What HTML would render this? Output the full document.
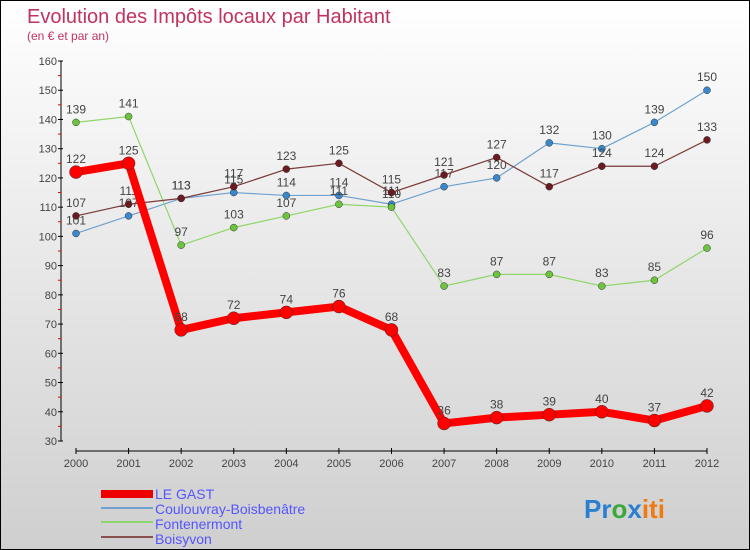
<!DOCTYPE html>
<html><head><meta charset="utf-8"><style>
body{margin:0;}
#wrap{width:748px;height:548px;border:1px solid #000;background:linear-gradient(#fff,#f3f3f3 25%,#e2e2e2 60%,#cfcfcf);position:relative;overflow:hidden;font-family:"Liberation Sans",sans-serif;}
svg text{font-family:"Liberation Sans",sans-serif;}
</style></head><body>
<div id="wrap">
<svg id="chart" width="748" height="548">
<text x="26" y="22" font-size="20" fill="#c0335f">Evolution des Impôts locaux par Habitant</text>
<text x="26" y="39" font-size="12" fill="#c0335f">(en € et par an)</text>
<g id="axes"></g><g id="series"></g>
<g>
<rect x="100" y="489" width="52" height="8" fill="#e00"/>
<text x="154" y="498" font-size="14" fill="#55f">LE GAST</text>
<rect x="100" y="506" width="52" height="2" fill="#6fa2d0"/>
<text x="154" y="513" font-size="14" fill="#55f">Coulouvray-Boisbenâtre</text>
<rect x="100" y="520" width="52" height="2" fill="#8fd66a"/>
<text x="154" y="528" font-size="14" fill="#55f">Fontenermont</text>
<rect x="100" y="535" width="52" height="2" fill="#8a5050"/>
<text x="154" y="543" font-size="14" fill="#55f">Boisyvon</text>
</g>
<text x="583" y="517" font-size="26" font-weight="bold"><tspan fill="#2a7fd0">Pr</tspan><tspan fill="#3aa83a">o</tspan><tspan fill="#2a7fd0">x</tspan><tspan fill="#f07a10">iti</tspan></text>
</svg>
</div>
<script>
const years=[2000,2001,2002,2003,2004,2005,2006,2007,2008,2009,2010,2011,2012];
const yTicks=[30,40,50,60,70,80,90,100,110,120,130,140,150,160];
const leGast=[122,125,68,72,74,76,68,36,38,39,40,37,42];
const coulouvray=[101,107,113,115,114,114,111,117,120,132,130,139,150];
const fontenermont=[139,141,97,103,107,111,110,83,87,87,83,85,96];
const boisyvon=[107,111,113,117,123,125,115,121,127,117,124,124,133];
const NS='http://www.w3.org/2000/svg';
function xs(i){return 75+i*(706-75)/(years.length-1);}
function ys(v){return 440-(v-30)*(380/130);}
function mk(tag,attrs,parent){const e=document.createElementNS(NS,tag);for(const k in attrs)e.setAttribute(k,attrs[k]);parent.appendChild(e);return e;}
const axes=document.getElementById('axes'),ser=document.getElementById('series');
let a=mk('line',{x1:60,y1:ys(160),x2:60,y2:ys(30),stroke:'#000'},axes);


a=mk('line',{x1:75,y1:450,x2:706,y2:450,stroke:'#000'},axes);


yTicks.forEach(v=>{
 mk('line',{x1:57,y1:ys(v),x2:62,y2:ys(v),stroke:'#000'},axes);
 if(v<160)mk('line',{x1:57,y1:ys(v+5),x2:60,y2:ys(v+5),stroke:'#e00'},axes);
 const t=mk('text',{x:56,y:ys(v)+4,'font-size':11,'text-anchor':'end',fill:'#444'},axes);
 t.textContent=v;
 
 
});
years.forEach((y,i)=>{
 mk('line',{x1:xs(i),y1:447,x2:xs(i),y2:453,stroke:'#000'},axes);
 const t=mk('text',{x:xs(i),y:466,'font-size':11,'text-anchor':'middle',fill:'#444'},axes);
 t.textContent=y;
 
 
});
function draw(data,color,dot,w,r,name){
 const g=mk('g',{},ser);
 
 
 const pl=mk('polyline',{points:data.map((v,i)=>xs(i)+','+ys(v)).join(' '),fill:'none',stroke:color,'stroke-width':w,'stroke-linejoin':'round'},g);
 
 
 data.forEach((v,i)=>{
  const c=mk('circle',{cx:xs(i),cy:ys(v),r:r,fill:dot,stroke:'#333','stroke-width':0.5},g);
  
  
  const t=mk('text',{x:xs(i),y:ys(v)-9,'font-size':12,'text-anchor':'middle',fill:'#444'},g);
  t.textContent=v;
  
  
 });
}
draw(coulouvray,'#6fa2d0','#3a88cc',1.2,3.5,'coulouvray');
draw(fontenermont,'#8fd66a','#6cc43c',1.2,3.5,'fontenermont');
draw(boisyvon,'#7a3a3a','#6a1a20',1.2,3.5,'boisyvon');
draw(leGast,'#f00','#f00',8,6.5,'le-gast');
</script>
</body></html>
